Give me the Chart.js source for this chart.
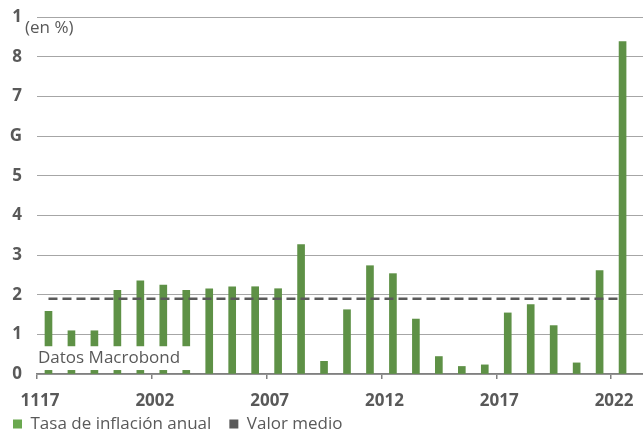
<!DOCTYPE html>
<html>
<head>
<meta charset="utf-8">
<script src="https://cdn.jsdelivr.net/npm/chart.js@4/dist/chart.umd.min.js"></script>
<style>
  html, body { margin: 0; padding: 0; background: #ffffff; overflow: hidden; }
  #wrap { position: relative; width: 643px; height: 460px; }
</style>
</head>
<body>
<div id="wrap"><canvas id="c"></canvas></div>
<script>
// ---- Data ----
const years = [1997,1998,1999,2000,2001,2002,2003,2004,2005,2006,2007,2008,2009,2010,2011,2012,2013,2014,2015,2016,2017,2018,2019,2020,2021,2022];
const inflation = [1.58,1.09,1.09,2.11,2.35,2.24,2.11,2.15,2.20,2.20,2.15,3.26,0.32,1.62,2.73,2.53,1.385,0.44,0.19,0.23,1.54,1.75,1.22,0.28,2.61,8.38];
const meanValue = 1.9;
const xTickYears = [1997,2002,2007,2012,2017,2022];
const xTickLabels = ["1117","2002","2007","2012","2017","2022"];
const yTickLabels = ["0","1","2","3","4","5","G","7","8","1"];
const seriesNames = ["Tasa de inflación anual","Valor medio"];
const unitLabel = "(en %)";
const watermark = "Datos Macrobond";

const GREEN = '#5e9146';
const LEGEND_GREEN = '#6aa84f';
const DARK = '#595959';
const FONT = "'Open Sans', 'DejaVu Sans', sans-serif";

const overlayPlugin = {
  id: 'overlay',
  afterLayout(chart) {
    if (chart.legend) {
      chart.legend.left = chart.legend.left - 5;
      chart.legend.top = 397.5;
    }
  },
  afterDatasetsDraw(chart) {
    const {ctx, chartArea, scales} = chart;
    const y = scales.y;
    ctx.save();
    // watermark box
    const top = y.getPixelForValue(0.7);
    const bot = y.getPixelForValue(0.1);
    ctx.fillStyle = '#ffffff';
    ctx.fillRect(chartArea.left - 1, top, 196 - chartArea.left, bot - top);
    ctx.fillStyle = DARK;
    ctx.font = "17px " + FONT;
    ctx.textBaseline = 'middle';
    ctx.textAlign = 'left';
    ctx.fillText(watermark, 38, (top + bot) / 2 + 0.5);
    ctx.restore();
  },
  afterDraw(chart) {
    const {ctx} = chart;
    ctx.save();
    ctx.fillStyle = DARK;
    ctx.font = "17px " + FONT;
    ctx.textBaseline = 'middle';
    ctx.textAlign = 'left';
    ctx.fillText(unitLabel, 25, 28);
    ctx.restore();
  }
};

new Chart(document.getElementById('c'), {
  type: 'bar',
  data: {
    datasets: [
      {
        type: 'bar',
        label: seriesNames[0],
        data: years.map((yr, i) => ({x: yr + 0.5, y: inflation[i]})),
        backgroundColor: GREEN,
        borderWidth: 0,
        barThickness: 7,
        order: 1
      },
      {
        type: 'line',
        label: seriesNames[1],
        data: [{x: years[0] + 0.5, y: meanValue}, {x: years[years.length - 1] + 0.5, y: meanValue}],
        borderColor: DARK,
        borderWidth: 2.5,
        borderDash: [9, 5],
        pointRadius: 0,
        fill: false,
        order: 0
      }
    ]
  },
  options: {
    responsive: true,
    maintainAspectRatio: false,
    animation: false,
    layout: { padding: { top: 17, right: 0, bottom: 0, left: 0 } },
    plugins: {
      tooltip: { enabled: false },
      legend: {
        display: true,
        position: 'bottom',
        align: 'start',
        labels: {
          color: DARK,
          font: { family: FONT, size: 17 },
          boxWidth: 9,
          boxHeight: 9,
          padding: 18,
          generateLabels() {
            return [
              { text: seriesNames[0], fillStyle: LEGEND_GREEN, strokeStyle: LEGEND_GREEN, lineWidth: 0, fontColor: DARK, datasetIndex: 0 },
              { text: seriesNames[1], fillStyle: DARK, strokeStyle: DARK, lineWidth: 0, fontColor: DARK, datasetIndex: 1 }
            ];
          }
        }
      }
    },
    scales: {
      x: {
        type: 'linear',
        offset: false,
        min: 1997,
        max: 2023.39,
        afterFit(scale) { scale.height = 41; scale.paddingLeft = 0; scale.paddingRight = 0; },
        afterBuildTicks(scale) { scale.ticks = xTickYears.map(v => ({value: v})); },
        ticks: {
          autoSkip: false,
          maxRotation: 0,
          padding: 12,
          labelOffset: 3,
          color: DARK,
          font: { family: FONT, size: 17, weight: 'bold' },
          callback(value) {
            const i = xTickYears.indexOf(value);
            return i >= 0 ? xTickLabels[i] : '';
          }
        },
        grid: {
          display: true,
          offset: false,
          drawOnChartArea: false,
          drawTicks: true,
          tickLength: 5,
          color: '#808080',
          lineWidth: 1.5
        },
        border: { display: true, color: '#808080', width: 1.5 }
      },
      y: {
        min: 0,
        max: 9,
        afterFit(scale) { scale.width = 37; scale.paddingTop = 0; scale.paddingBottom = 0; },
        afterBuildTicks(scale) { scale.ticks = yTickLabels.map((_, i) => ({value: i})); },
        ticks: {
          padding: 15,
          color: DARK,
          font: { family: FONT, size: 17, weight: 'bold' },
          callback(value, index) { return yTickLabels[index]; }
        },
        grid: {
          drawTicks: false,
          color: '#a6a6a6',
          lineWidth: 1
        },
        border: { display: false }
      }
    }
  },
  plugins: [overlayPlugin]
});
</script>
</body>
</html>
